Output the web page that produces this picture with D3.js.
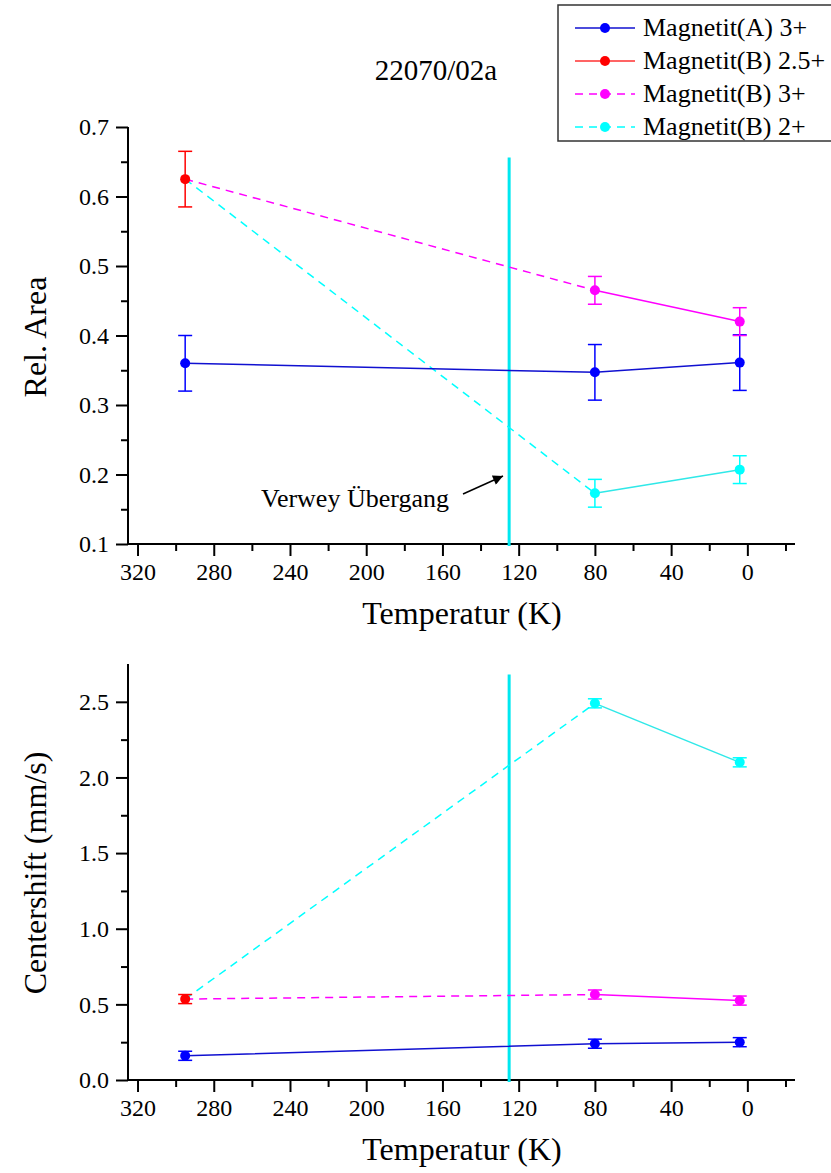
<!DOCTYPE html>
<html><head><meta charset="utf-8">
<script src="https://cdn.jsdelivr.net/npm/d3@7"></script>
<style>body{margin:0;background:#fff}svg{display:block}</style>
</head><body><svg id="c" width="831" height="1173"></svg>
<script>
// ---- data ----
const temps = [295, 80, 4];
const seriesNames = ["Magnetit(A) 3+", "Magnetit(B) 2.5+", "Magnetit(B) 3+", "Magnetit(B) 2+"];
const seriesColors = ["#0000ff", "#ff0000", "#ff00ff", "#00ffff"];
// Rel. Area
const areaA3 = [0.36, 0.347, 0.361];
const areaA3Err = [0.04, 0.04, 0.04];
const areaB25 = [0.625, null, null];
const areaB25Err = [0.04, null, null];
const areaB3 = [null, 0.465, 0.42];
const areaB3Err = [null, 0.02, 0.02];
const areaB2 = [null, 0.173, 0.207];
const areaB2Err = [null, 0.02, 0.02];
// Centershift
const csA3 = [0.16, 0.24, 0.25];
const csA3Err = [0.03, 0.03, 0.03];
const csB25 = [0.535, null, null];
const csB25Err = [0.03, null, null];
const csB3 = [null, 0.565, 0.525];
const csB3Err = [null, 0.03, 0.03];
const csB2 = [null, 2.49, 2.10];
const csB2Err = [null, 0.03, 0.03];
// axes
const xTicks = [320, 280, 240, 200, 160, 120, 80, 40, 0];
const xMinor = [300, 260, 220, 180, 140, 100, 60, 20, -20];
const areaTicks = [0.1, 0.2, 0.3, 0.4, 0.5, 0.6, 0.7];
const areaMinor = [0.15, 0.25, 0.35, 0.45, 0.55, 0.65];
const csTicks = [0.0, 0.5, 1.0, 1.5, 2.0, 2.5];
const csMinor = [0.25, 0.75, 1.25, 1.75, 2.25];
const verweyT = 125;
const verweyTopArea = 0.656;
const verweyTopCs = 2.68;

const FONT = "'Liberation Serif', Tinos, 'Times New Roman', serif";
const svg = d3.select("#c");

function panel(opts) {
  const x = d3.scaleLinear().domain([325, -25]).range([128, 795]);
  const y = d3.scaleLinear().domain(opts.yDomain).range(opts.yRange);
  const g = svg.append("g");
  const y0 = opts.yRange[0];

  const xa = g.append("g").attr("transform", `translate(0,${y0})`)
    .call(d3.axisBottom(x).tickValues(xTicks).tickSize(12).tickPadding(7).tickFormat(d3.format("d")));
  g.append("g").attr("transform", `translate(0,${y0})`)
    .call(d3.axisBottom(x).tickValues(xMinor).tickSize(7).tickFormat(""))
    .select(".domain").remove();
  const ya = g.append("g").attr("transform", `translate(128,0)`)
    .call(d3.axisLeft(y).tickValues(opts.yTicks).tickSize(12).tickPadding(7).tickFormat(opts.fmt));
  g.append("g").attr("transform", `translate(128,0)`)
    .call(d3.axisLeft(y).tickValues(opts.yMinor).tickSize(7).tickFormat(""))
    .select(".domain").remove();
  xa.select(".domain").attr("d", `M${x.range()[0]},0H${x.range()[1]}`);
  ya.select(".domain").attr("d", `M0,${y.range()[0]}V${y.range()[1]}`);
  g.selectAll("g").attr("font-family", FONT).attr("font-size", 24);
  g.selectAll(".domain").attr("stroke-width", 2);
  g.selectAll(".tick line").attr("stroke-width", 2);
  g.selectAll(".tick text").style("font-family", FONT).style("font-size", "24px").attr("fill", "#000");

  // Verwey line
  g.append("line").attr("x1", x(verweyT)).attr("x2", x(verweyT))
    .attr("y1", y(opts.verweyTop)).attr("y2", y(opts.yDomain[0]) + 2)
    .attr("stroke", "#00e8f0").attr("stroke-width", 3);

  const [sA3, sB25, sB3, sB2] = opts.series;
  const line = d3.line().x(d => x(d[0])).y(d => y(d[1]));
  const dashed = (vals, col) => g.append("path")
    .attr("d", line([[temps[0], sB25.v[0]], [temps[1], vals[1]]]))
    .attr("fill", "none").attr("stroke", col).attr("stroke-width", 1.5).attr("stroke-dasharray", "8,6");
  dashed(sB3.v, seriesColors[2]);
  dashed(sB2.v, seriesColors[3]);
  const solid = (vals, col) => {
    const pts = temps.map((t, i) => [t, vals[i]]).filter(p => p[1] != null);
    g.append("path").attr("d", line(pts)).attr("fill", "none").attr("stroke", col).attr("stroke-width", 1.5);
  };
  solid(sA3.v, "#1010d0");
  solid(sB3.v, seriesColors[2]);
  solid(sB2.v, "#30e8e8");

  opts.series.forEach((s, k) => {
    temps.forEach((t, i) => {
      if (s.v[i] == null) return;
      const cx = x(t), v = s.v[i], e = s.e[i];
      const col = seriesColors[k];
      const eg = g.append("g").attr("stroke", col).attr("stroke-width", 1.5);
      eg.append("line").attr("x1", cx).attr("x2", cx).attr("y1", y(v - e)).attr("y2", y(v + e));
      eg.append("line").attr("x1", cx - 7).attr("x2", cx + 7).attr("y1", y(v - e)).attr("y2", y(v - e));
      eg.append("line").attr("x1", cx - 7).attr("x2", cx + 7).attr("y1", y(v + e)).attr("y2", y(v + e));
      g.append("circle").attr("cx", cx).attr("cy", y(v)).attr("r", 5).attr("fill", col);
    });
  });

  g.append("text").attr("x", 462).attr("y", y0 + 80).attr("text-anchor", "middle")
    .style("font-family", FONT).style("font-size", "32px").text("Temperatur (K)");
  g.append("text").attr("transform", `translate(46,${opts.yLabelY}) rotate(-90)`).attr("text-anchor", "middle")
    .style("font-family", FONT).style("font-size", "32px").text(opts.yLabel);
  return {x, y, g};
}

panel({
  yDomain: [0.1, 0.7], yRange: [544, 127], yTicks: areaTicks, yMinor: areaMinor, fmt: d3.format(".1f"),
  verweyTop: verweyTopArea, yLabel: "Rel. Area", yLabelY: 337,
  series: [{v: areaA3, e: areaA3Err}, {v: areaB25, e: areaB25Err}, {v: areaB3, e: areaB3Err}, {v: areaB2, e: areaB2Err}]
});
panel({
  yDomain: [0, 2.75], yRange: [1080, 664], yTicks: csTicks, yMinor: csMinor, fmt: d3.format(".1f"),
  verweyTop: verweyTopCs, yLabel: "Centershift (mm/s)", yLabelY: 873,
  series: [{v: csA3, e: csA3Err}, {v: csB25, e: csB25Err}, {v: csB3, e: csB3Err}, {v: csB2, e: csB2Err}]
});

svg.append("text").attr("x", 436).attr("y", 80).attr("text-anchor", "middle")
  .style("font-family", FONT).style("font-size", "29px").text("22070/02a");

svg.append("defs").append("marker").attr("id", "ah").attr("viewBox", "0 0 10 10").attr("refX", 10).attr("refY", 5)
  .attr("markerWidth", 14).attr("markerHeight", 10).attr("markerUnits", "userSpaceOnUse").attr("orient", "auto")
  .append("path").attr("d", "M0,0L10,5L0,10z").attr("fill", "#000");
svg.append("text").attr("x", 261).attr("y", 507)
  .style("font-family", FONT).style("font-size", "26px").text("Verwey Übergang");
svg.append("line").attr("x1", 463).attr("y1", 494).attr("x2", 503).attr("y2", 476)
  .attr("stroke", "#000").attr("stroke-width", 1.5).attr("marker-end", "url(#ah)");

const lg = svg.append("g");
lg.append("rect").attr("x", 558).attr("y", 5).attr("width", 290).attr("height", 136)
  .attr("fill", "#fff").attr("stroke", "#333").attr("stroke-width", 1.5);
const legendDash = [null, null, "8,6", "8,6"];
const legendLineCol = ["#1010d0", "#ff3030", seriesColors[2], seriesColors[3]];
seriesNames.forEach((n, i) => {
  const yy = 28 + i * 33;
  lg.append("line").attr("x1", 575).attr("x2", 635).attr("y1", yy).attr("y2", yy)
    .attr("stroke", legendLineCol[i]).attr("stroke-width", 1.5).attr("stroke-dasharray", legendDash[i]);
  lg.append("circle").attr("cx", 605).attr("cy", yy).attr("r", 5).attr("fill", seriesColors[i]);
  lg.append("text").attr("x", 643).attr("y", yy + 8)
    .style("font-family", FONT).style("font-size", "26px").text(n);
});
</script></body></html>
